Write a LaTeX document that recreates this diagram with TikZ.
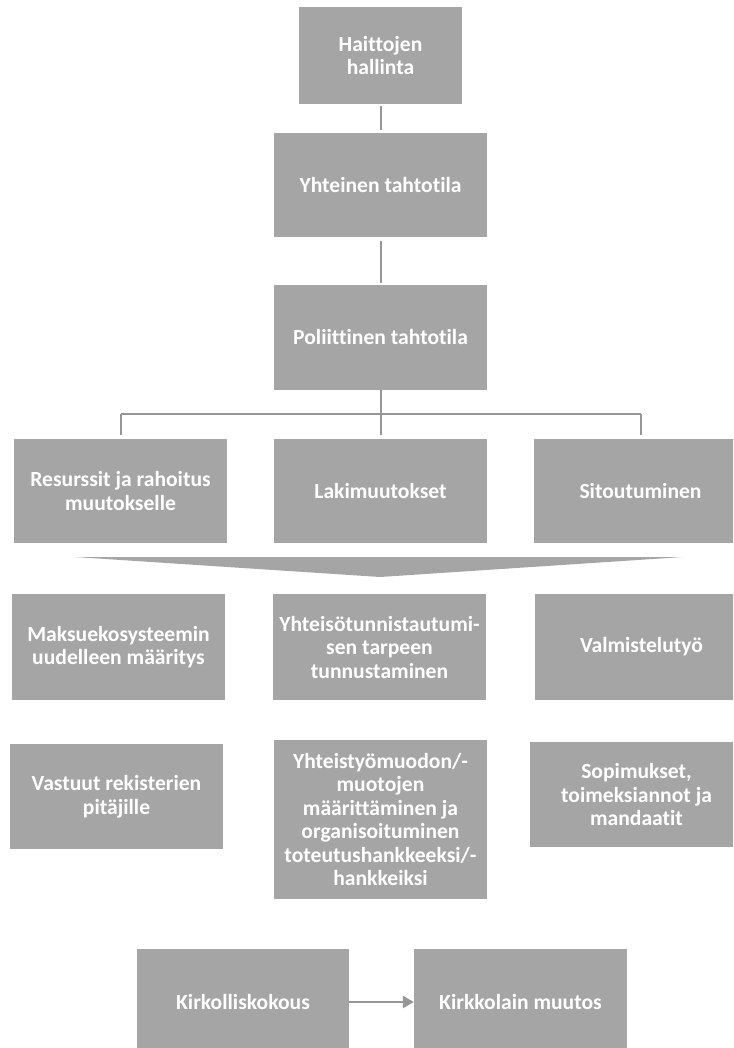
\documentclass[tikz,border=0pt]{standalone}
\usepackage{fontspec}
\setmainfont{Carlito}[Ligatures=NoCommon]
\usetikzlibrary{arrows.meta}
\definecolor{boxgrey}{RGB}{165,165,165}
\definecolor{linegrey}{RGB}{150,150,150}
\tikzset{
  box/.style={fill=boxgrey, draw=none, text=white, align=center, inner sep=2pt,
    font=\fontsize{21.6}{23.5}\selectfont\bfseries, minimum width=213pt, minimum height=104pt},
  conn/.style={draw=linegrey, line width=2pt},
}
\begin{document}
\begin{tikzpicture}[x=1pt,y=-1pt]
\clip (0,0) rectangle (733,1048);
\fill[white] (0,0) rectangle (733,1048);

\node[box, minimum width=163pt, minimum height=97pt] (hai) at (380.5,55.5) {Haittojen\\hallinta};
\node[box] (yht) at (380.5,185) {Yhteinen tahtotila};
\node[box, minimum height=105pt] (pol) at (380.5,337.5) {Poliittinen tahtotila};

\node[box] (res) at (120.5,491) {Resurssit ja rahoitus\\muutokselle};
\node[box] (lak) at (380.5,491) {Lakimuutokset};
\node[box] (sit) at (640.5,491) {Sitoutuminen};

\fill[boxgrey] (75,557) -- (683,557) -- (380,577) -- cycle;

\node[box, minimum height=106pt] (mak) at (118.5,647) {Maksuekosysteemin\\uudelleen määritys};
\node[box, minimum height=106pt] (ytu) at (379.5,647) {Yhteisötunnistautumi-\\sen tarpeen\\tunnustaminen};
\node[box, minimum height=106pt] (val) at (641.5,647) {Valmistelutyö};

\node[box, minimum height=105pt] (vas) at (116.5,796.5) {Vastuut rekisterien\\pitäjille};
\node[box, minimum height=159pt] (ytm) at (380.5,819.5) {Yhteistyömuodon/-\\muotojen\\määrittäminen ja\\organisoituminen\\toteutushankkeeksi/-\\hankkeiksi};
\node[box, minimum height=105pt] (sop) at (636.5,794.5) {Sopimukset,\\toimeksiannot ja\\mandaatit};

\node[box, minimum width=212pt, minimum height=106pt] (kir) at (243,1002) {Kirkolliskokous};
\node[box, minimum height=106pt] (kml) at (520.5,1002) {Kirkkolain muutos};

\draw[conn, shorten <=2pt, shorten >=3pt] (hai.south) -- (yht.north);
\draw[conn, shorten <=4pt, shorten >=2pt] (yht.south) -- (pol.north);
\coordinate (bar) at (380.5,414);
\draw[conn, shorten >=4pt] (pol.south) -- (lak.north);
\draw[conn, shorten >=4pt] (res.north |- bar) -- (res.north);
\draw[conn, shorten >=4pt] (sit.north |- bar) -- (sit.north);
\draw[conn] (res.north |- bar) -- (sit.north |- bar);

\draw[draw=linegrey, line width=2.5pt, -{Triangle[length=11pt,width=12pt]}] (kir.east) -- (kml.west);
\end{tikzpicture}
\end{document}
